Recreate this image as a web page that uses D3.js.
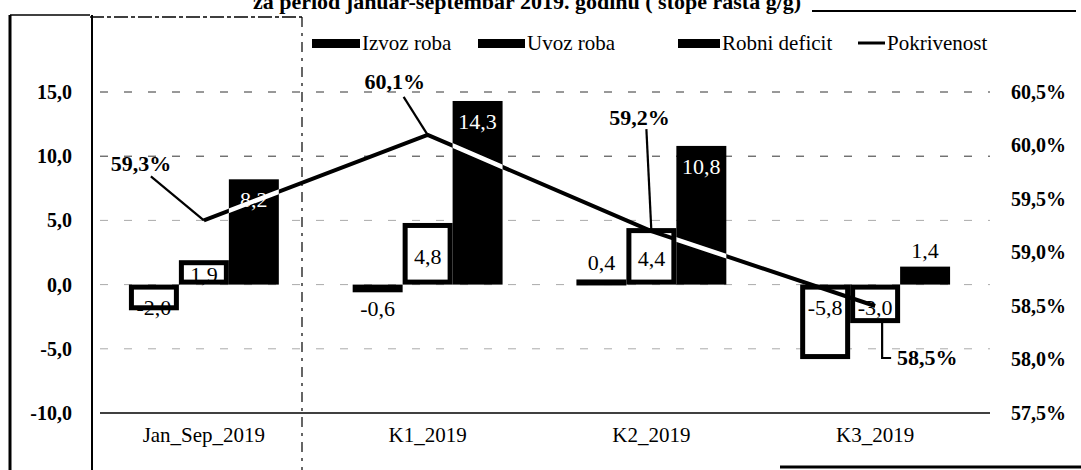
<!DOCTYPE html>
<html>
<head>
<meta charset="utf-8">
<script src="https://cdn.jsdelivr.net/npm/d3@7"></script>
<style>
  body { margin: 0; background: #fff; }
  svg { display: block; }
  text { font-family: "Liberation Serif", "Times New Roman", serif; fill: #000; }
</style>
</head>
<body>
<svg id="chart" width="1081" height="470"></svg>
<script>
// ---- data ----
const categories   = ["Jan_Sep_2019", "K1_2019", "K2_2019", "K3_2019"];
const izvozRoba    = [-2.0, -0.6, 0.4, -5.8];
const uvozRoba     = [1.9, 4.8, 4.4, -3.0];
const robniDeficit = [8.2, 14.3, 10.8, 1.4];
const pokrivenost  = [59.3, 60.1, 59.2, 58.5];
const leftTicks    = [-10, -5, 0, 5, 10, 15];
const rightTicks   = [57.5, 58.0, 58.5, 59.0, 59.5, 60.0, 60.5];
const seriesNames  = ["Izvoz roba", "Uvoz roba", "Robni deficit", "Pokrivenost"];
const titleText    = "za period januar-septembar 2019. godinu ( stope rasta g/g)";

// ---- layout ----
const W = 1081, H = 470;
const plot = { left: 92, right: 987, top: 92, bottom: 413 };
const svg = d3.select("#chart");
const SERIF = "Liberation Serif, Times New Roman, serif";

const locale = d3.formatLocale({ decimal: ",", thousands: ".", grouping: [3], currency: ["", ""], minus: "-" });
const f1 = locale.format(".1f");
const fPct = v => f1(v) + "%";

const x = d3.scaleBand().domain(categories).range([plot.left, plot.right]);
const groupW = x.bandwidth() * 0.67;
const xi = d3.scaleBand().domain([0, 1, 2]).range([0, groupW]);
const yL = d3.scaleLinear().domain([-10, 15]).range([plot.bottom, plot.top]);
const yR = d3.scaleLinear().domain([57.5, 60.5]).range([plot.bottom, plot.top]);

// ---- page frame lines of the sheet ----
const frame = svg.append("g").attr("stroke", "#000").attr("fill", "none");
frame.append("line").attr("x1", 10).attr("y1", 15).attr("x2", 10).attr("y2", H).attr("stroke-width", 3);
frame.append("line").attr("x1", 10).attr("y1", 15).attr("x2", 90).attr("y2", 15).attr("stroke-width", 1.5);
frame.append("line").attr("x1", 90).attr("y1", 17).attr("x2", 302).attr("y2", 17)
  .attr("stroke-width", 1.5).attr("stroke-dasharray", "14,3,4,3");
frame.append("line").attr("x1", 302).attr("y1", 17).attr("x2", 302).attr("y2", H)
  .attr("stroke-width", 1.2).attr("stroke-dasharray", "10,6,3,6");
frame.append("line").attr("x1", 812).attr("y1", 11).attr("x2", 1076).attr("y2", 11).attr("stroke-width", 2);
frame.append("line").attr("x1", 780).attr("y1", 467).attr("x2", W).attr("y2", 467).attr("stroke-width", 3);

// ---- title ----
svg.append("text").attr("x", 527).attr("y", 9).attr("text-anchor", "middle")
  .attr("font-size", 22).attr("font-weight", "bold").text(titleText);

// ---- gridlines ----
svg.append("g").selectAll("line").data(leftTicks.filter(t => t > -10)).join("line")
  .attr("x1", plot.left + 8).attr("x2", plot.right + 3)
  .attr("y1", d => yL(d)).attr("y2", d => yL(d))
  .attr("stroke", d => (d >= 10 ? "#333" : "#aaa")).attr("stroke-width", 1).attr("stroke-dasharray", "8,16");

// ---- left axis ----
const axL = svg.append("g").attr("transform", `translate(92,0)`)
  .call(d3.axisLeft(yL).tickValues(leftTicks).tickFormat(f1).tickSize(0).tickPadding(20));
axL.attr("font-family", SERIF);
axL.select(".domain").attr("d", `M0,15V${H}`).attr("stroke", "#000").attr("stroke-width", 2);
axL.selectAll("text").attr("font-size", 20).attr("font-weight", "bold");

// ---- right axis ----
const axR = svg.append("g").attr("transform", `translate(1066,0)`)
  .call(d3.axisRight(yR).tickValues(rightTicks).tickFormat(fPct).tickSize(0).tickPadding(0));
axR.attr("font-family", SERIF);
axR.select(".domain").remove();
axR.selectAll("text").attr("text-anchor", "end").attr("font-size", 20).attr("font-weight", "bold");

// ---- category axis along the -10 line ----
const axB = svg.append("g").attr("transform", `translate(0,${yL(-10)})`)
  .call(d3.axisBottom(x).tickSize(0).tickPadding(14));
axB.attr("font-family", SERIF);
axB.select(".domain").attr("d", `M${plot.left + 8},0H${plot.right + 3}`)
  .attr("stroke", "#000").attr("stroke-width", 1.5);
axB.selectAll("text").attr("font-size", 21);

// ---- bars ----
const series = [
  { name: seriesNames[0], values: izvozRoba,    fill: "#fff", text: "#000" },
  { name: seriesNames[1], values: uvozRoba,     fill: "#fff", text: "#000" },
  { name: seriesNames[2], values: robniDeficit, fill: "#000", text: "#fff" }
];
const barX = (ci, si) => x(categories[ci]) + (x.bandwidth() - groupW) / 2 + xi(si);
const barData = series.flatMap((s, si) => s.values.map((v, ci) => ({ s, si, ci, v })));

svg.append("g").selectAll("rect").data(barData).join("rect")
  .attr("x", d => barX(d.ci, d.si) + 2.5)
  .attr("width", xi.bandwidth() - 5)
  .attr("y", d => Math.min(yL(d.v), yL(0)) + 2.5)
  .attr("height", d => Math.max(Math.abs(yL(d.v) - yL(0)) - 5, 1))
  .attr("fill", d => d.s.fill)
  .attr("stroke", "#000").attr("stroke-width", 5);

// ---- bar value labels ----
function labelY(d) {
  const a = Math.abs(d.v);
  const up = d.v >= 0;
  if (a < 1.5) return up ? yL(d.v) - 9 : yL(d.v) + 24;   // outside end
  if (d.si === 2 && a > 6) return yL(d.v) + 28;           // inside end
  if (!up) return yL(0) + 30;                             // inside, near the base
  return (yL(d.v) + yL(0)) / 2 + 10;                      // centre
}
svg.append("g").selectAll("text").data(barData).join("text")
  .attr("x", d => barX(d.ci, d.si) + xi.bandwidth() / 2)
  .attr("y", labelY)
  .attr("text-anchor", "middle").attr("font-size", 22)
  .style("fill", d => (Math.abs(d.v) < 1.5 ? "#000" : d.s.text))
  .text(d => f1(d.v));

// ---- coverage line ----
const linePts = pokrivenost.map((v, i) => [x(categories[i]) + x.bandwidth() / 2, yR(v)]);
const lineGen = d3.line();
svg.append("path").attr("d", lineGen(linePts))
  .attr("fill", "none").attr("stroke", "#000").attr("stroke-width", 4).attr("stroke-linejoin", "round");

// where the line runs across the dark bars it shows light
const clip = svg.append("clipPath").attr("id", "darkBars");
clip.selectAll("rect").data(barData.filter(d => d.s.fill === "#000")).join("rect")
  .attr("x", d => barX(d.ci, d.si))
  .attr("width", xi.bandwidth())
  .attr("y", d => Math.min(yL(d.v), yL(0)))
  .attr("height", d => Math.abs(yL(d.v) - yL(0)));
svg.append("path").attr("d", lineGen(linePts)).attr("clip-path", "url(#darkBars)")
  .attr("fill", "none").attr("stroke", "#fff").attr("stroke-width", 4.5);

// ---- coverage labels with leader lines ----
const pctLabelOffset = [
  { dx: -63, dy: -56, lead: [[-53, -44], [0, 0]] },
  { dx: -33, dy: -53, lead: [[-24, -38], [0, 0]] },
  { dx: -12, dy: -113, lead: [[-5, -102], [0, 0]] },
  { dx: 52, dy: 52, lead: [[7, 16], [7, 52], [16, 52]] }
];
const pl = svg.append("g");
linePts.forEach((p, i) => {
  const o = pctLabelOffset[i];
  pl.append("path")
    .attr("d", d3.line()(o.lead.map(q => [p[0] + q[0], p[1] + q[1]])))
    .attr("fill", "none").attr("stroke", "#000").attr("stroke-width", 2.2);
  pl.append("text").attr("x", p[0] + o.dx).attr("y", p[1] + o.dy + 7)
    .attr("text-anchor", "middle").attr("font-size", 22).attr("font-weight", "bold")
    .text(fPct(pokrivenost[i]));
});

// ---- legend ----
const legend = svg.append("g").attr("transform", "translate(0,44)");
const legendItems = [
  { name: seriesNames[0], x: 312, w: 48, kind: "bar" },
  { name: seriesNames[1], x: 478, w: 47, kind: "bar" },
  { name: seriesNames[2], x: 678, w: 42, kind: "bar" },
  { name: seriesNames[3], x: 858, w: 27, kind: "line" }
];
legendItems.forEach(it => {
  if (it.kind === "bar") {
    legend.append("rect").attr("x", it.x).attr("y", -5).attr("width", it.w).attr("height", 9).attr("fill", "#000");
  } else {
    legend.append("line").attr("x1", it.x).attr("x2", it.x + it.w).attr("y1", -1).attr("y2", -1)
      .attr("stroke", "#000").attr("stroke-width", 3);
  }
  legend.append("text").attr("x", it.x + it.w + 2).attr("y", 6).attr("font-size", 21).text(it.name);
});
</script>
</body>
</html>
